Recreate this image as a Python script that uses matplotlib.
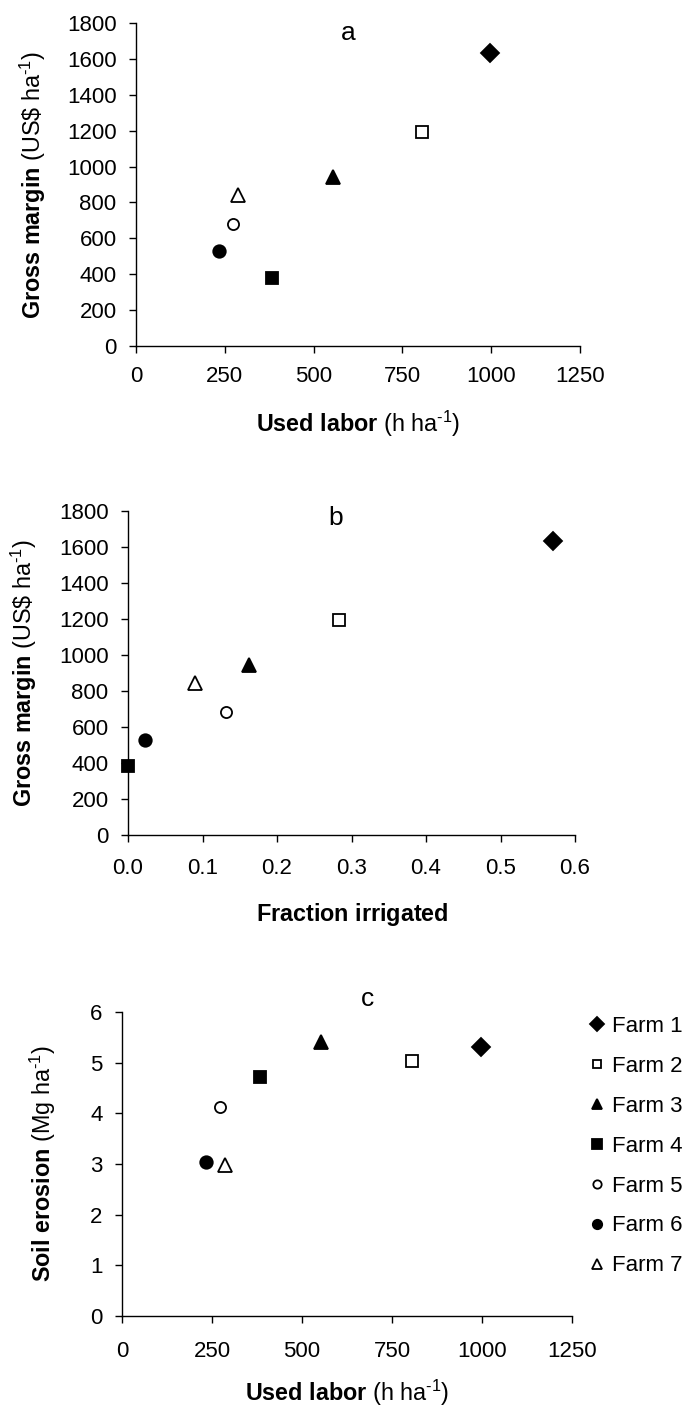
import matplotlib
matplotlib.use("Agg")
import matplotlib.pyplot as plt
from matplotlib.ticker import FormatStrFormatter

plt.rcParams["font.family"] = ["Liberation Sans", "DejaVu Sans"]
plt.rcParams["mathtext.fontset"] = "custom"
plt.rcParams["mathtext.rm"] = "Liberation Sans"
plt.rcParams["mathtext.bf"] = "Liberation Sans:bold"
plt.rcParams["mathtext.it"] = "Liberation Sans:italic"

# Farm data
farms = ["Farm 1", "Farm 2", "Farm 3", "Farm 4", "Farm 5", "Farm 6", "Farm 7"]
used_labor = [997, 805, 554, 383, 272, 233, 287]            # h ha-1
gross_margin = [1632, 1195, 942, 381, 682, 528, 842]         # US$ ha-1
fraction_irrigated = [0.570, 0.283, 0.162, 0.0, 0.131, 0.023, 0.090]
soil_erosion = [5.30, 5.03, 5.40, 4.72, 4.13, 3.03, 2.99]    # Mg ha-1

labor_ticks = [0, 250, 500, 750, 1000, 1250]
margin_ticks = [0, 200, 400, 600, 800, 1000, 1200, 1400, 1600, 1800]
fraction_ticks = [0.0, 0.1, 0.2, 0.3, 0.4, 0.5, 0.6]
erosion_ticks = [0, 1, 2, 3, 4, 5, 6]

# marker style per farm: (marker, filled, size)
styles = [("D", True, 9.5), ("s", False, 8.5), ("^", True, 10.0), ("s", True, 9.0),
          ("o", False, 8.0), ("o", True, 9.0), ("^", False, 10.0)]

FS = 16
LFS = 16.8
W, H = 691, 1409
fig = plt.figure(figsize=(W / 100, H / 100), dpi=100)


def px_axes(l, t, r, b):
    return fig.add_axes([l / W, 1 - b / H, (r - l) / W, (b - t) / H])


def style_axes(ax, xpad):
    for s in ("top", "right"):
        ax.spines[s].set_visible(False)
    for s in ("left", "bottom"):
        ax.spines[s].set_linewidth(1.0)
    ax.tick_params(axis="both", direction="out", length=5, width=1.0,
                   labelsize=FS, colors="black")
    ax.tick_params(axis="y", pad=9)
    ax.tick_params(axis="x", pad=xpad)


def scatter_farms(ax, xs, ys):
    handles = []
    for x, y, name, (m, filled, ms) in zip(xs, ys, farms, styles):
        h, = ax.plot([x], [y], linestyle="none", marker=m, markersize=ms,
                     markerfacecolor="black" if filled else "white",
                     markeredgecolor="black", markeredgewidth=1.3,
                     label=name, clip_on=False, zorder=3)
        handles.append(h)
    return handles


ylab_margin = r"$\mathbf{Gross\ margin}$ (US\$ ha$^{\text{-1}}$)"
xlab_labor = r"$\mathbf{Used\ labor}$ (h ha$^{\text{-1}}$)"

# Panel a
ax_a = px_axes(136, 23, 580, 346)
scatter_farms(ax_a, used_labor, gross_margin)
ax_a.set_xlim(0, 1250)
ax_a.set_ylim(0, 1800)
ax_a.set_xticks(labor_ticks)
ax_a.set_yticks(margin_ticks)
style_axes(ax_a, 9.5)
fig.text(348 / W, 1 - 33 / H, "a", fontsize=19, ha="center", va="center")
fig.text(33 / W, 1 - 185 / H, ylab_margin, fontsize=LFS, rotation=90,
         ha="center", va="center")
fig.text(358 / W, 1 - 424 / H, xlab_labor, fontsize=LFS, ha="center", va="center")

# Panel b
ax_b = px_axes(128, 511, 575, 835)
scatter_farms(ax_b, fraction_irrigated, gross_margin)
ax_b.set_xlim(0, 0.6)
ax_b.set_ylim(0, 1800)
ax_b.set_xticks(fraction_ticks)
ax_b.set_yticks(margin_ticks)
ax_b.xaxis.set_major_formatter(FormatStrFormatter("%.1f"))
style_axes(ax_b, 11.5)
fig.text(336 / W, 1 - 518 / H, "b", fontsize=19, ha="center", va="center")
fig.text(24 / W, 1 - 673 / H, ylab_margin, fontsize=LFS, rotation=90,
         ha="center", va="center")
fig.text(352 / W, 1 - 915 / H, r"$\mathbf{Fraction\ irrigated}$", fontsize=LFS,
         ha="center", va="center")

# Panel c
ax_c = px_axes(122, 1012, 572, 1316)
handles = scatter_farms(ax_c, used_labor, soil_erosion)
ax_c.set_xlim(0, 1250)
ax_c.set_ylim(0, 6)
ax_c.set_xticks(labor_ticks)
ax_c.set_yticks(erosion_ticks)
style_axes(ax_c, 13)
fig.text(368 / W, 1 - 999 / H, "c", fontsize=19, ha="center", va="center")
fig.text(43 / W, 1 - 1164 / H, r"$\mathbf{Soil\ erosion}$ (Mg ha$^{\text{-1}}$)",
         fontsize=LFS, rotation=90, ha="center", va="center")
fig.text(347 / W, 1 - 1393 / H, xlab_labor, fontsize=LFS, ha="center", va="center")

fig.legend(handles=handles, loc="upper left",
           bbox_to_anchor=(588 / W, 1 - 1016 / H), bbox_transform=fig.transFigure,
           frameon=False, fontsize=FS, numpoints=1, markerscale=0.75,
           handlelength=0.8, handletextpad=0.3, borderpad=0, borderaxespad=0,
           labelspacing=0.85)

fig.savefig("out.png", dpi=100)
